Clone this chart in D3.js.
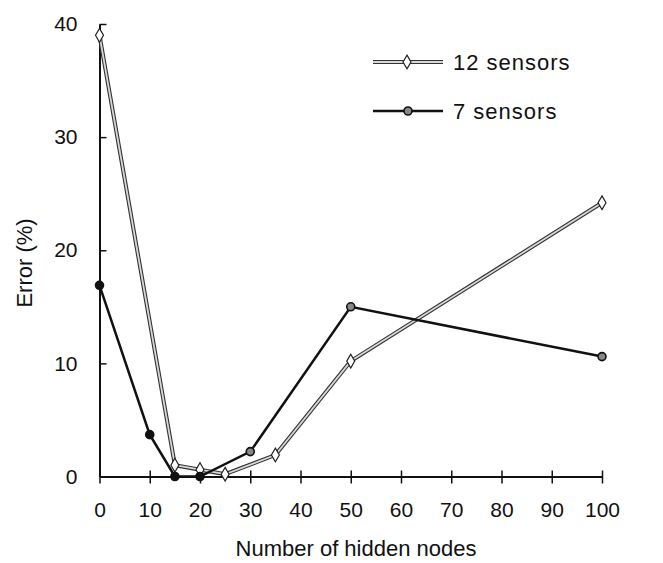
<!DOCTYPE html>
<html>
<head>
<meta charset="utf-8">
<script src="https://d3js.org/d3.v7.min.js"></script>
<style>
  body { margin: 0; background: #fff; }
  svg text { font-family: "Liberation Sans", Arial, sans-serif; fill: #111; }
</style>
</head>
<body>
<svg id="chart" width="663" height="563"></svg>
<script>
// hidden nodes vs error
var nodes12 = [0, 15, 20, 25, 35, 50, 100];
var err12   = [39, 1.0, 0.6, 0.2, 1.9, 10.2, 24.2];
var nodes7  = [0, 10, 15, 20, 30, 50, 100];
var err7    = [16.9, 3.7, 0, 0, 2.2, 15.0, 10.6];
var xTicks  = [0, 10, 20, 30, 40, 50, 60, 70, 80, 90, 100];
var yTicks  = [0, 10, 20, 30, 40];
var seriesNames = ["12 sensors", "7 sensors"];

var svg = d3.select("#chart");

var x = d3.scaleLinear().domain([0, 100]).range([99.5, 602]);
var y = d3.scaleLinear().domain([0, 40]).range([476.5, 24]);

// axes - ticks cross the axis line
var xAxis = svg.append("g")
    .attr("transform", "translate(0," + y(0) + ")")
    .call(d3.axisBottom(x).tickValues(xTicks).tickSizeInner(7).tickSizeOuter(0).tickPadding(19));
xAxis.select(".domain").attr("stroke", "#111").attr("stroke-width", 2);
xAxis.selectAll(".tick line").attr("y1", -6).attr("stroke", "#111").attr("stroke-width", 1.5);
xAxis.selectAll(".tick text").attr("font-size", "21px").attr("fill", "#111");

var yAxis = svg.append("g")
    .attr("transform", "translate(" + x(0) + ",0)")
    .call(d3.axisLeft(y).tickValues(yTicks).tickSizeInner(7).tickSizeOuter(0).tickPadding(15));
yAxis.select(".domain").attr("stroke", "#111").attr("stroke-width", 2);
yAxis.selectAll(".tick line").attr("x2", 7).attr("stroke", "#111").attr("stroke-width", 1.5);
yAxis.selectAll(".tick text").attr("font-size", "21px").attr("fill", "#111");
yAxis.selectAll(".tick").filter(function(d) { return d === 0; }).select("line").attr("x2", 0);
xAxis.selectAll(".tick").filter(function(d) { return d === 0; }).select("line").attr("y1", 0);

svg.append("text")
    .attr("x", 356).attr("y", 556)
    .attr("text-anchor", "middle")
    .attr("font-size", "22px")
    .text("Number of hidden nodes");

svg.append("text")
    .attr("transform", "translate(32,263) rotate(-90)")
    .attr("text-anchor", "middle")
    .attr("font-size", "22px")
    .text("Error (%)");

var pts12 = nodes12.map(function(d, i) { return [d, err12[i]]; });
var pts7 = nodes7.map(function(d, i) { return [d, err7[i]]; });

var line = d3.line()
    .x(function(d) { return x(d[0]); })
    .y(function(d) { return y(d[1]); });

// 12 sensors: hollow double line
svg.append("path").datum(pts12)
    .attr("d", line).attr("fill", "none")
    .attr("stroke", "#333").attr("stroke-width", 4).attr("stroke-linejoin", "round");
svg.append("path").datum(pts12)
    .attr("d", line).attr("fill", "none")
    .attr("stroke", "#d8d8d8").attr("stroke-width", 1.8).attr("stroke-linejoin", "round");

// 7 sensors: solid black
svg.append("path").datum(pts7)
    .attr("d", line).attr("fill", "none")
    .attr("stroke", "#111").attr("stroke-width", 2.5);

var diamond = d3.symbol().type(d3.symbolDiamond).size(55);

svg.selectAll(".m12").data(pts12).enter().append("path")
    .attr("class", "m12")
    .attr("transform", function(d) { return "translate(" + x(d[0]) + "," + y(d[1]) + ")"; })
    .attr("d", diamond)
    .attr("fill", "#fff").attr("stroke", "#222").attr("stroke-width", 1.2);

svg.selectAll(".m7").data(pts7).enter().append("circle")
    .attr("class", "m7")
    .attr("cx", function(d) { return x(d[0]); })
    .attr("cy", function(d) { return y(d[1]); })
    .attr("r", 4)
    .attr("fill", function(d) { return d[0] < 30 ? "#111" : "#888"; })
    .attr("stroke", "#111").attr("stroke-width", 1.6);

// legend
var legend = svg.append("g");
var ly = [62, 111];
seriesNames.forEach(function(name, i) {
    var g = legend.append("g").attr("transform", "translate(0," + ly[i] + ")");
    if (i === 0) {
        g.append("line").attr("x1", 373).attr("x2", 443)
            .attr("stroke", "#333").attr("stroke-width", 4);
        g.append("line").attr("x1", 373).attr("x2", 443)
            .attr("stroke", "#d8d8d8").attr("stroke-width", 1.8);
        g.append("path").attr("transform", "translate(407,0)").attr("d", diamond)
            .attr("fill", "#fff").attr("stroke", "#222").attr("stroke-width", 1.2);
    } else {
        g.append("line").attr("x1", 373).attr("x2", 443)
            .attr("stroke", "#111").attr("stroke-width", 2.5);
        g.append("circle").attr("cx", 408).attr("r", 4)
            .attr("fill", "#888").attr("stroke", "#111").attr("stroke-width", 1.6);
    }
    g.append("text").attr("x", 453).attr("dy", "0.35em")
        .attr("font-size", "22px").attr("letter-spacing", "1px").text(name);
});
</script>
</body>
</html>
